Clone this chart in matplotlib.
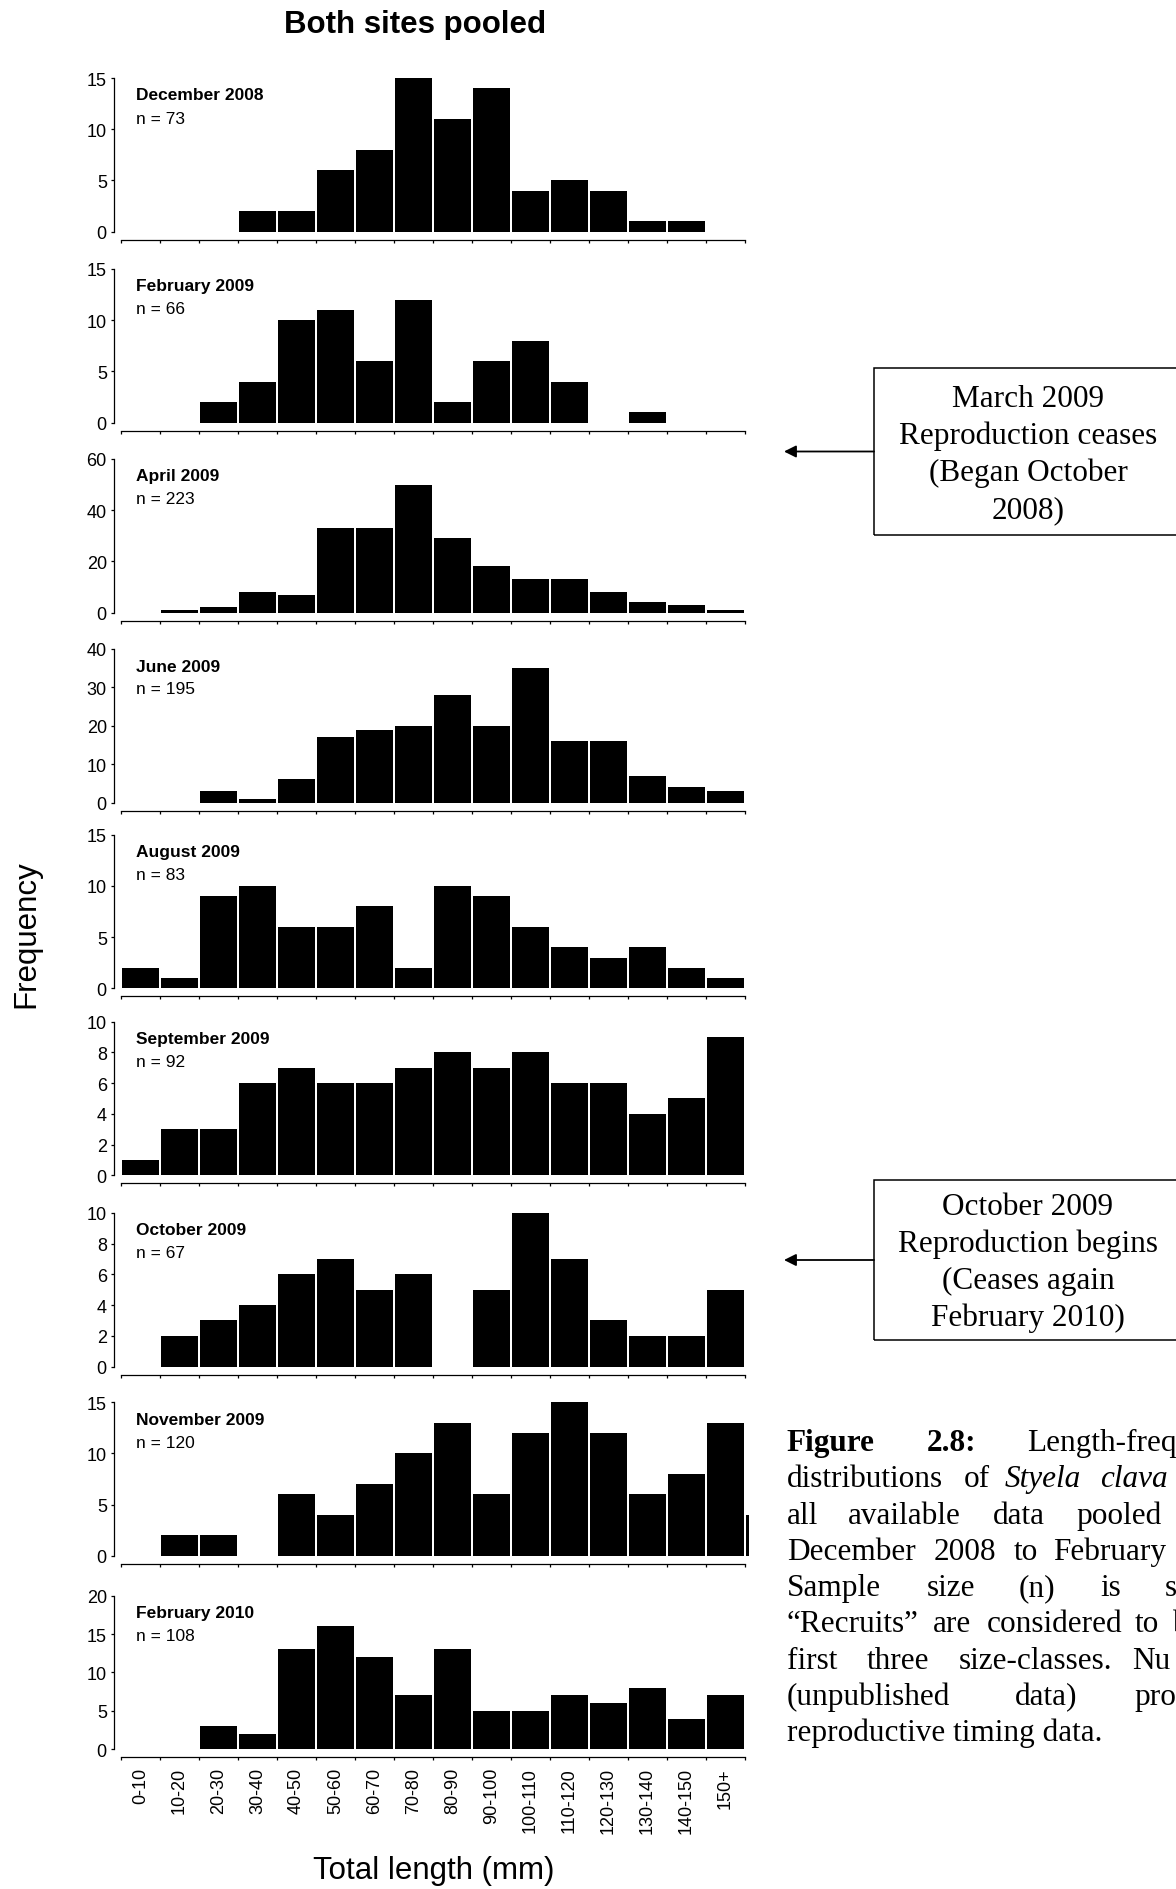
import numpy as np
import matplotlib
matplotlib.use("Agg")
import matplotlib.pyplot as plt
from matplotlib.patches import Rectangle, FancyArrowPatch

#size classes (mm)
size_classes = ["0-10", "10-20", "20-30", "30-40", "40-50", "50-60", "60-70", "70-80",
                "80-90", "90-100", "100-110", "110-120", "120-130", "130-140", "140-150", "150+"]

months = ["December 2008", "February 2009", "April 2009", "June 2009", "August 2009",
          "September 2009", "October 2009", "November 2009", "February 2010"]
sample_sizes = [73, 66, 223, 195, 83, 92, 67, 120, 108]

#frequencies per size class
dec_2008 = [0, 0, 0, 2, 2, 6, 8, 15, 11, 14, 4, 5, 4, 1, 1, 0]
feb_2009 = [0, 0, 2, 4, 10, 11, 6, 12, 2, 6, 8, 4, 0, 1, 0, 0]
apr_2009 = [0, 1, 2, 8, 7, 33, 33, 50, 29, 18, 13, 13, 8, 4, 3, 1]
jun_2009 = [0, 0, 3, 1, 6, 17, 19, 20, 28, 20, 35, 16, 16, 7, 4, 3]
aug_2009 = [2, 1, 9, 10, 6, 6, 8, 2, 10, 9, 6, 4, 3, 4, 2, 1]
sep_2009 = [1, 3, 3, 6, 7, 6, 6, 7, 8, 7, 8, 6, 6, 4, 5, 9]
oct_2009 = [0, 2, 3, 4, 6, 7, 5, 6, 0, 5, 10, 7, 3, 2, 2, 5]
# last value is the bar that sticks out past the panel edge in the original
nov_2009 = [0, 2, 2, 0, 6, 4, 7, 10, 13, 6, 12, 15, 12, 6, 8, 13, 4]
feb_2010 = [0, 0, 3, 2, 13, 16, 12, 7, 13, 5, 5, 7, 6, 8, 4, 7]

series = [dec_2008, feb_2009, apr_2009, jun_2009, aug_2009, sep_2009, oct_2009, nov_2009, feb_2010]
y_max = [15, 15, 60, 40, 15, 10, 10, 15, 20]
y_step = [5, 5, 20, 10, 5, 2, 2, 5, 5]

W, H = 1176, 1890
fig = plt.figure(figsize=(W / 100, H / 100), dpi=100)

sans = "Liberation Sans"
serif = "Liberation Serif"


def fx(x):
    return x / W


def fy(y):
    return 1 - y / H


#panel layout in pixels
panel_tops = [79, 270, 460, 650, 835.7, 1022.7, 1214, 1403.3, 1596.7]
panel_h = 153.5
pitch = 39.0
left = 121
x_hi = 15.6
px_pt = 0.72

for i, vals in enumerate(series):
    top = panel_tops[i]
    ax = fig.add_axes([fx(left), fy(top + panel_h), (x_hi + 0.5) * pitch / W, panel_h / H])
    ax.bar(np.arange(len(vals)), vals, width=0.935, color="black")
    ax.set_xlim(-0.5, x_hi)
    ax.set_ylim(0, y_max[i])
    for s in ["top", "right"]:
        ax.spines[s].set_visible(False)
    ax.spines["left"].set_position(("outward", 7 * px_pt))
    ax.spines["bottom"].set_position(("outward", 8 * px_pt))
    ax.spines["bottom"].set_bounds(-0.5, 15.5)
    for s in ["left", "bottom"]:
        ax.spines[s].set_linewidth(0.9)
    ax.set_xticks(np.arange(-0.5, 16, 1))
    ax.set_xticks(np.arange(16), minor=True)
    ax.tick_params(axis="x", which="major", length=3 * px_pt, width=0.9, labelbottom=False)
    ax.tick_params(axis="x", which="minor", length=0)
    ax.set_yticks(np.arange(0, y_max[i] + 1, y_step[i]))
    ax.tick_params(axis="y", length=3 * px_pt, width=0.9, pad=3, labelsize=13)
    for lab in ax.get_yticklabels():
        lab.set_family(sans)
    if i == len(series) - 1:
        ax.set_xticklabels(size_classes, minor=True, rotation=90, fontsize=13, family=sans)
        ax.tick_params(axis="x", which="minor", pad=7)
    ax.annotate(months[i], xy=(0, 1), xycoords="axes fraction", xytext=(15 * px_pt, -9.5 * px_pt),
                textcoords="offset points", va="top", ha="left", fontsize=12.5,
                fontweight="bold", family=sans)
    ax.annotate(f"n = {sample_sizes[i]}", xy=(0, 1), xycoords="axes fraction",
                xytext=(15 * px_pt, -32.5 * px_pt), textcoords="offset points", va="top",
                ha="left", fontsize=12.5, family=sans)

#titles
fig.text(fx(415), fy(25), "Both sites pooled", ha="center", va="center", fontsize=22.5,
         fontweight="bold", family=sans)
fig.text(fx(26.5), fy(934), "Frequency", rotation=90, ha="center", va="center", fontsize=22.5,
         family=sans)
fig.text(fx(434), fy(1871), "Total length (mm)", ha="center", va="center", fontsize=22.5,
         family=sans)

#reproduction boxes with arrows
boxes = [
    (369, 536, ["March 2009", "Reproduction ceases", "(Began October", "2008)"]),
    (1181, 1341, ["October 2009", "Reproduction begins", "(Ceases again", "February 2010)"]),
]
for y0, y1, lines in boxes:
    fig.add_artist(Rectangle((fx(874), fy(y1)), fx(1195) - fx(874), fy(y0) - fy(y1),
                             transform=fig.transFigure, fill=False, edgecolor="black", linewidth=1.1))
    yc = (y0 + y1) / 2
    fig.add_artist(FancyArrowPatch((fx(874), fy(yc)), (fx(784), fy(yc)), transform=fig.transFigure,
                                   arrowstyle="-|>", mutation_scale=18, color="black", linewidth=1.3,
                                   shrinkA=0, shrinkB=0))
    for k, line in enumerate(lines):
        base = yc - 1.5 * 37 + k * 37 + 10
        fig.text(fx(1028), fy(base), line, ha="center", va="baseline", fontsize=22.5, family=serif)

#figure caption, justified words cut off by the page edge
caption = [
    [("Figure", 786.7, "b"), ("2.8:", 926.7, "b"), ("Length-frequency", 1026.7, "n")],
    [("distributions", 786.7, "n"), ("of", 963.3, "n"), ("Styela", 1005, "i"), ("clava", 1100, "i")],
    [("all", 786.7, "n"), ("available", 848.3, "n"), ("data", 993.3, "n"), ("pooled", 1076.7, "n")],
    [("December", 786.7, "n"), ("2008", 933.3, "n"), ("to", 1013.3, "n"), ("February", 1053.3, "n")],
    [("Sample", 786.7, "n"), ("size", 926.7, "n"), ("(n)", 1018.3, "n"), ("is", 1100, "n"),
     ("shown.", 1165, "n")],
    [("\u201cRecruits\u201d", 786.7, "n"), ("are", 933.3, "n"), ("considered", 986.7, "n"),
     ("to", 1135, "n"), ("be", 1173, "n")],
    [("first", 786.7, "n"), ("three", 866.7, "n"), ("size-classes.", 958.3, "n"), ("Nu", 1131.7, "n")],
    [("(unpublished", 786.7, "n"), ("data)", 1015, "n"), ("pro", 1134, "n")],
    [("reproductive timing data.", 786.7, "n")],
]
for k, words in enumerate(caption):
    base = 1451 + k * 36.3
    for word, x, st in words:
        fig.text(fx(x), fy(base), word, ha="left", va="baseline", fontsize=22.5, family=serif,
                 fontweight="bold" if st == "b" else "normal",
                 fontstyle="italic" if st == "i" else "normal")

fig.savefig("out.png", dpi=100)
